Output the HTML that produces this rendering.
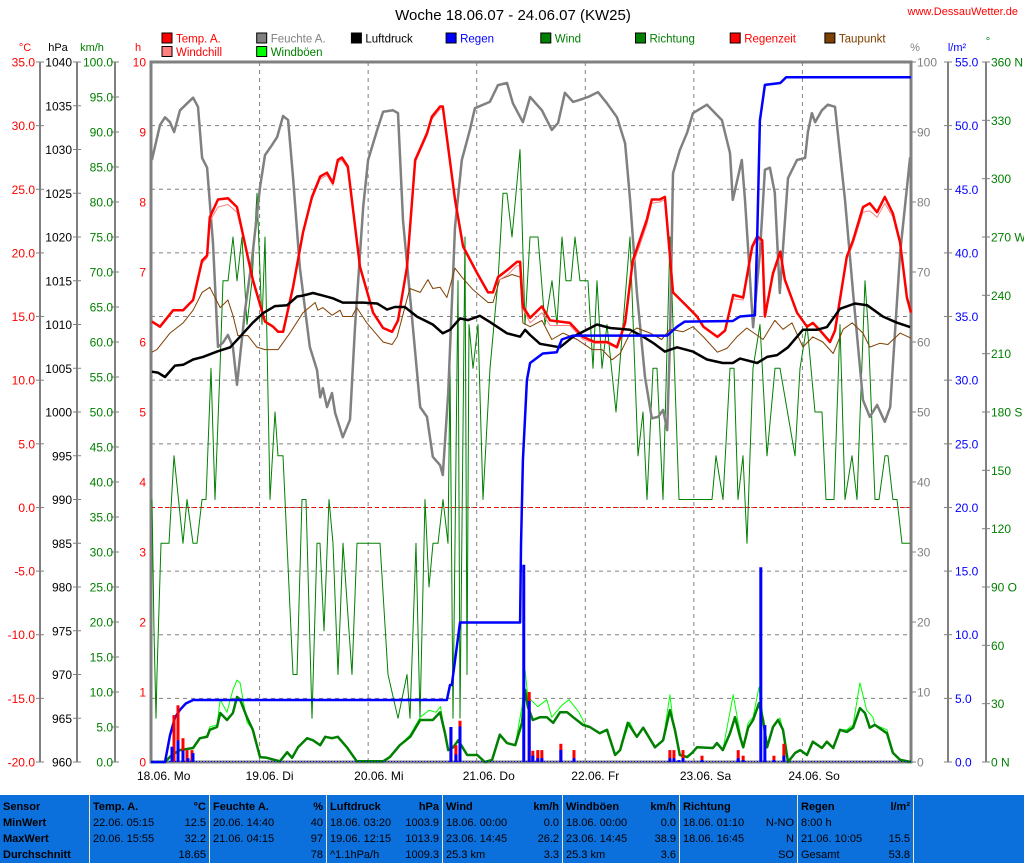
<!DOCTYPE html>
<html><head><meta charset="utf-8">
<style>
html,body{margin:0;padding:0;background:#fff;width:1024px;height:863px;overflow:hidden;font-family:"Liberation Sans",sans-serif;}
#wrap{position:relative;width:1024px;height:863px;}
svg{position:absolute;left:0;top:0;}
#tbl{position:absolute;left:0;top:795px;width:1024px;height:68px;background:#0b6fdc;}
.col{position:absolute;top:0;height:68px;border-left:1px solid #f0e6c0;font-size:11px;color:#000;}
.r{position:absolute;left:3px;right:3px;height:15px;white-space:nowrap;}
.r span.v{position:absolute;right:0;}
.b{font-weight:bold;}
</style></head>
<body>
<div id="wrap">
<svg id="chart" width="1024" height="795" viewBox="0 0 1024 795"></svg>
<div id="tbl">
 <div class="col" style="left:0;width:88px;border-left:none">
  <div class="r b" style="top:6px">Sensor</div><div class="r b" style="top:22px">MinWert</div><div class="r b" style="top:38px">MaxWert</div><div class="r b" style="top:54px">Durchschnitt</div></div>
 <div class="col" style="left:89px;width:119px">
  <div class="r b" style="top:6px">Temp. A.<span class="v">°C</span></div><div class="r" style="top:22px">22.06.  05:15<span class="v">12.5</span></div><div class="r" style="top:38px">20.06.  15:55<span class="v">32.2</span></div><div class="r" style="top:54px"><span class="v">18.65</span></div></div>
 <div class="col" style="left:209px;width:116px">
  <div class="r b" style="top:6px">Feuchte A.<span class="v">%</span></div><div class="r" style="top:22px">20.06.  14:40<span class="v">40</span></div><div class="r" style="top:38px">21.06.  04:15<span class="v">97</span></div><div class="r" style="top:54px"><span class="v">78</span></div></div>
 <div class="col" style="left:326px;width:115px">
  <div class="r b" style="top:6px">Luftdruck<span class="v">hPa</span></div><div class="r" style="top:22px">18.06.  03:20<span class="v">1003.9</span></div><div class="r" style="top:38px">19.06.  12:15<span class="v">1013.9</span></div><div class="r" style="top:54px">^1.1hPa/h<span class="v">1009.3</span></div></div>
 <div class="col" style="left:442px;width:119px">
  <div class="r b" style="top:6px">Wind<span class="v">km/h</span></div><div class="r" style="top:22px">18.06.  00:00<span class="v">0.0</span></div><div class="r" style="top:38px">23.06.  14:45<span class="v">26.2</span></div><div class="r" style="top:54px">25.3 km<span class="v">3.3</span></div></div>
 <div class="col" style="left:562px;width:116px">
  <div class="r b" style="top:6px">Windböen<span class="v">km/h</span></div><div class="r" style="top:22px">18.06.  00:00<span class="v">0.0</span></div><div class="r" style="top:38px">23.06.  14:45<span class="v">38.9</span></div><div class="r" style="top:54px">25.3 km<span class="v">3.6</span></div></div>
 <div class="col" style="left:679px;width:117px">
  <div class="r b" style="top:6px">Richtung</div><div class="r" style="top:22px">18.06.  01:10<span class="v">N-NO</span></div><div class="r" style="top:38px">18.06.  16:45<span class="v">N</span></div><div class="r" style="top:54px"><span class="v">SO</span></div></div>
 <div class="col" style="left:797px;width:115px">
  <div class="r b" style="top:6px">Regen<span class="v">l/m²</span></div><div class="r" style="top:22px">8:00 h</div><div class="r" style="top:38px">21.06.  10:05<span class="v">15.5</span></div><div class="r" style="top:54px">Gesamt<span class="v">53.8</span></div></div>
 <div class="col" style="left:913px;width:111px"></div>
</div>
</div>
<script>
// ---------- DATA ----------
const tempHours=[0.2,2.0,4.9,7.1,9.3,11.3,12.4,13.0,14.8,17.0,19.0,21.2,22.5,25.2,27.0,28.1,29.2,31.4,33.6,35.6,37.4,38.9,40.2,41.3,42.2,43.5,46.2,49.1,51.3,53.3,54.6,56.6,58.4,61.0,62.1,63.9,64.5,67.2,69.0,72.1,74.5,75.6,76.7,78.9,80.9,81.6,82.2,83.8,86.4,88.2,92.6,95.5,98.1,100.8,103.0,104.8,106.5,109.6,110.7,112.5,113.6,115.4,118.5,120.7,122.1,125.2,126.9,128.7,130.9,132.9,134.0,135.1,135.7,137.5,139.1,140.1,142.8,145.0,146.3,147.9,150.1,151.2,153.8,155.2,157.4,158.9,160.5,162.2,164.0,165.6,167.1,168];
const tempVals=[14.6,14.2,15.5,15.5,16.3,19.4,19.8,22.8,24.2,24.3,23.6,20.0,17.9,14.6,14.2,13.8,13.8,17.3,21.6,24.4,26.0,26.3,25.5,27.3,27.5,26.8,18.9,15.3,14.1,13.8,14.7,18.9,27.3,29.4,30.7,31.5,31.5,24.2,20.5,18.4,16.9,16.9,18.1,18.7,19.3,19.3,15.8,14.9,15.8,14.7,14.5,13.4,13.0,13.0,12.6,14.5,19.4,22.6,24.2,24.2,24.4,16.9,15.8,15.0,14.2,13.4,13.9,16.7,16.5,20.5,21.3,21.0,15.0,18.4,20.1,17.9,15.3,14.2,14.5,13.9,13.0,13.9,19.7,21.0,23.6,23.9,23.2,24.4,23.1,20.8,16.5,15.3];
const chillVals=[14.6,14.2,15.5,15.5,16.3,19.2,19.6,22.5,23.6,23.8,23.2,20.0,17.9,14.6,14.2,13.8,13.8,17.3,21.6,24.2,25.8,26.1,25.3,27.1,27.3,26.6,18.9,15.3,14.1,13.8,14.7,18.9,27.1,29.2,30.5,31.3,31.3,24.2,20.5,18.4,16.9,16.9,17.8,18.3,19.0,19.0,15.6,14.5,15.3,14.3,14.3,13.2,12.9,12.9,12.5,14.3,19.0,22.2,23.9,24.0,24.2,16.9,15.8,15.0,14.2,13.4,13.9,16.4,16.3,20.3,21.1,20.8,15.0,18.2,19.9,17.9,15.3,14.2,14.5,13.9,13.0,13.9,19.5,20.7,23.2,23.3,22.8,23.9,22.8,20.6,16.5,15.3];
const dewHours=[0.2,1.3,4.2,7.1,9.3,11.3,13.0,15.3,17.0,18.1,19.2,21.4,23.4,25.2,28.1,30.7,33.6,36.3,36.9,38.0,40.0,41.8,42.4,44.4,45.5,47.7,51.3,53.3,54.4,57.2,59.5,61.2,62.3,63.9,65.4,67.2,68.7,71.2,74.5,75.6,77.1,79.8,81.6,82.2,83.8,86.4,88.6,91.1,94.2,97.5,99.7,101.9,103.7,105.9,107.4,110.3,112.9,114.7,117.6,119.8,122.1,125.2,127.3,129.5,131.7,135.3,137.9,139.7,141.7,144.1,146.3,148.5,150.8,153.0,155.0,157.4,158.9,161.1,162.9,165.6,168];
const dewVals=[12.2,12.4,13.7,14.5,15.5,16.9,17.3,15.7,16.3,15.1,13.5,13.5,12.6,12.4,12.4,13.7,15.3,16.1,15.5,15.7,15.1,15.5,15.0,15.0,15.7,14.5,13.0,12.8,13.4,17.2,16.9,17.9,17.2,17.3,16.5,18.8,18.1,17.1,16.1,16.1,17.9,18.3,18.1,14.5,14.2,14.7,13.2,13.7,13.2,12.4,12.4,11.6,12.1,13.7,14.1,13.7,13.2,14.0,13.8,14.2,13.4,12.2,12.5,13.4,14.1,13.2,14.7,14.0,14.5,12.6,13.4,13.0,12.1,14.0,14.5,13.7,12.6,12.9,12.8,13.7,13.3];
const humHours=[0.2,2.0,3.1,4.2,5.1,6.4,8.0,9.3,10.4,11.3,12.4,13.7,14.8,15.9,17.0,18.1,19.0,20.8,22.3,24.1,25.2,26.7,27.9,29.2,30.3,31.4,32.9,35.1,36.7,37.4,38.0,38.9,40.0,40.7,42.4,44.0,45.1,46.9,48.0,50.0,51.3,53.5,54.6,55.7,57.9,59.5,61.0,62.3,63.9,64.5,65.7,67.2,68.7,70.5,71.6,74.9,76.7,78.7,80.0,82.2,83.8,86.4,88.6,90.0,91.5,93.3,94.8,96.6,98.8,100.8,103.0,104.8,105.9,107.4,109.2,110.7,112.1,113.2,114.1,114.7,115.4,116.9,118.5,119.8,122.9,124.7,126.2,128.0,128.6,130.6,131.3,133.1,134.6,135.7,136.8,137.9,139.0,140.8,142.8,144.6,145.2,146.1,146.8,148.3,149.6,151.2,153.4,155.2,157.4,158.9,160.5,162.2,163.4,165.6,167.8];
const humVals=[86.0,91.0,92.1,91.4,90.0,93.1,94.1,94.9,93.6,86.3,84.9,74.1,59.3,59.9,61.0,59.3,53.9,64.6,71.7,82.1,86.7,88.1,89.3,92.3,91.7,83.6,70.7,59.3,56.0,52.1,53.4,50.7,52.7,49.9,46.4,48.9,62.1,79.3,86.0,90.3,92.9,93.1,92.7,77.4,62.1,50.7,49.3,43.6,42.4,41.0,52.7,76.4,86.0,90.3,93.4,94.3,96.7,97.0,94.1,91.4,95.0,93.1,90.3,91.3,95.6,94.3,94.6,95.0,95.7,94.1,92.1,88.4,80.3,67.0,55.0,49.1,49.3,50.3,47.4,59.9,84.1,87.4,89.9,92.7,93.9,92.7,91.7,87.0,80.3,86.0,80.3,62.1,72.7,84.6,84.9,81.3,67.0,83.4,86.0,86.3,90.0,92.7,91.4,93.1,93.9,93.6,80.3,67.0,51.7,49.3,51.0,48.6,50.7,72.7,86.4];
const presHours=[0.2,1.5,3.1,5.3,7.1,9.3,11.5,14.6,17.5,19.7,22.5,24.8,27.4,30.1,32.3,33.6,35.8,38.0,40.2,42.4,46.9,50.0,52.2,53.9,56.1,58.8,62.3,64.5,66.1,68.3,70.1,72.7,74.9,78.7,81.6,82.7,83.8,86.0,90.4,93.3,98.6,101.5,105.9,108.8,111.0,113.6,116.3,119.8,122.9,126.4,128.6,130.2,134.0,136.2,138.4,140.8,144.1,147.2,149.4,152.3,155.6,158.3,161.8,164.9,167.8];
const presVals=[1004.6,1004.5,1004.0,1005.3,1005.4,1006.0,1006.3,1006.9,1007.4,1008.6,1010.2,1011.3,1012.1,1012.2,1013.2,1013.3,1013.6,1013.3,1013.0,1012.5,1012.5,1012.4,1011.7,1012.0,1012.0,1010.9,1010.0,1009.0,1009.4,1010.7,1010.5,1011.0,1010.3,1009.0,1008.6,1009.4,1008.8,1007.8,1007.4,1008.6,1010.0,1009.6,1009.4,1008.6,1007.9,1006.9,1007.4,1006.9,1006.0,1005.6,1005.6,1006.1,1005.6,1006.3,1006.5,1007.4,1009.4,1009.4,1009.7,1011.8,1012.4,1012.2,1010.9,1010.2,1009.7];
const rainHours=[0,3.1,4.2,5.3,6.4,7.7,9.3,65.4,66.1,66.5,68.3,81.6,81.8,82.2,83.1,83.8,86.6,89.7,90.8,93.3,114.1,116.3,118.0,128.6,130.2,133.5,134.0,134.6,135.7,139.1,140.4,168];
const rainVals=[0,0,2.1,3.5,4.1,4.6,4.87,4.87,6.05,6.05,10.96,10.96,17.0,23.7,30.0,31.35,32.1,32.2,33.2,33.5,33.5,34.2,34.6,34.65,35.0,35.1,41.25,50.4,53.2,53.35,53.8,53.8];
const windHours=[0,3.1,4.6,6.4,9.3,10.8,12.4,13.0,14.6,15.3,16.8,18.1,19.0,19.7,21.2,22.5,24.1,25.6,28.5,30.1,31.2,32.5,34.5,35.8,37.4,38.5,40.0,41.3,43.3,45.5,51.3,52.8,55.0,57.3,59.5,62.3,63.9,65.0,65.7,66.8,67.9,69.9,72.1,73.8,75.4,77.1,78.7,80.5,82.0,82.7,83.3,84.4,86.0,87.5,88.9,90.4,92.0,93.3,95.5,97.0,99.2,100.8,102.6,103.7,105.4,107.4,108.8,111.4,113.2,114.7,115.8,116.9,118.5,119.6,120.7,124.2,125.1,126.4,128.0,129.1,130.2,130.9,132.0,133.1,134.4,135.3,136.2,137.5,138.6,139.7,140.8,142.4,143.5,145.0,146.3,148.3,149.4,150.8,152.3,153.8,155.2,156.7,157.8,158.9,160.0,162.7,164.0,165.6,168];
const windVals=[0,0,1.0,1.7,2.0,3.4,3.6,4.6,5.0,7.0,6.0,7.0,9.3,8.9,6.4,4.6,0.7,0.6,0.1,1.4,0.6,2.1,3.4,3.1,2.4,3.6,3.4,3.6,2.1,0.1,0.1,0.7,2.4,3.6,6.0,6.0,7.1,4.1,1.7,2.1,3.1,1.0,1.0,0,0.3,3.9,2.7,2.4,5.6,10.3,7.9,6.0,6.4,6.4,5.6,7.1,7.1,6.4,5.3,5.0,4.1,4.6,1.0,1.7,5.6,3.6,4.9,2.1,3.1,7.4,4.6,1.0,0.7,1.3,2.1,2.0,2.7,1.7,4.1,6.4,3.6,2.1,4.9,6.0,8.4,6.0,2.1,5.0,6.0,4.6,0,1.3,1.7,1.0,2.9,2.0,2.9,2.0,4.6,4.3,4.9,7.7,7.0,4.9,5.3,4.1,1.3,0.3,0];
const gustHours=[0,3.1,4.6,6.4,9.3,10.8,12.4,13.0,14.6,15.3,16.8,18.1,19.0,19.7,21.2,22.5,24.1,25.6,28.5,30.1,31.2,32.5,34.5,35.8,37.4,38.5,40.0,41.3,43.3,45.5,51.3,52.8,55.0,57.3,59.5,61.5,63.0,64.0,65.0,65.7,66.8,67.9,69.9,72.1,73.8,75.4,77.1,78.7,80.5,82.0,82.7,83.3,85.5,87.5,88.6,90.8,92.4,94.6,96.0,99.2,100.8,102.6,103.7,105.8,107.4,108.8,111.4,113.2,114.7,115.3,116.9,118.5,119.6,120.7,124.2,125.1,126.4,128.7,129.8,130.9,132.0,133.1,134.4,135.3,136.2,137.5,139.0,139.7,140.8,142.4,143.5,145.0,146.3,148.3,149.4,150.8,152.3,153.8,155.2,156.7,158.2,159.6,160.0,162.7,164.0,165.6,168];
const gustVals=[0,0,1.0,1.7,2.0,3.4,3.8,5.0,5.3,8.9,7.1,10.3,11.7,11.3,5.7,4.6,0.7,0.6,0.1,1.4,0.6,2.1,3.4,3.1,2.4,3.6,3.4,3.6,2.1,0.1,0.1,0.7,2.4,3.9,6.4,7.4,7.1,7.9,4.1,1.7,2.1,3.1,1.0,1.0,0,0.3,3.9,2.7,2.4,7.9,13.1,9.3,7.9,8.9,6.4,8.1,8.9,7.1,5.3,4.1,4.6,1.0,1.7,5.7,3.6,4.9,2.1,3.1,9.6,6.4,1.0,0.7,1.3,2.1,2.0,2.7,1.7,9.6,5.6,2.1,5.6,6.4,10.7,6.4,2.1,5.0,6.3,4.6,0,1.3,1.7,1.0,2.9,2.0,2.9,2.0,4.6,4.6,5.3,11.3,7.4,6.4,5.3,4.6,1.3,0.3,0];
const dirHours=[0.22,0.66,1.1,1.33,2.21,3.98,5.08,7.07,7.96,9.28,10.17,11.27,12.16,13.26,14.15,15.25,15.92,17.02,18.13,19.01,20.11,21.22,22.33,23.43,24.54,25.2,26.3,27.4,28.07,29.18,30.06,31.39,32.27,33.38,34.26,35.59,36.69,37.36,38.24,39.35,40.23,41.33,42.44,44.43,45.54,50.62,52.39,54.6,56.59,57.25,58.58,59.46,60.57,61.45,62.33,63.44,64.54,65.65,66.09,66.76,67.86,68.3,69.41,69.85,70.29,71.18,72.28,73.39,74.93,76.7,77.81,78.69,79.8,81.56,82.67,83.78,85.54,87.09,88.64,89.74,90.85,91.73,92.84,93.72,94.83,96.6,97.7,98.59,99.69,100.8,102.79,105.88,107.65,108.75,109.64,110.96,111.85,113.17,114.72,116.71,124.0,124.89,126.44,127.98,128.87,129.75,130.86,131.74,133.07,134.62,136.16,137.93,139.04,142.35,143.46,145.0,146.77,148.32,149.2,150.97,152.3,153.4,154.95,156.06,157.83,158.49,160.04,160.92,162.25,162.91,164.01,164.9,166.0,167.77];
const dirVals=[135,67.5,22.5,45,112.5,112.5,157.5,112.5,135,112.5,112.5,135,135,202.5,135,202.5,247.5,247.5,270,247.5,270,225,247.5,292.5,225,270,135,180,157.5,157.5,112.5,45,45,135,135,22.5,112.5,112.5,67.5,135,112.5,45,112.5,45,112.5,112.5,45,22.5,45,22.5,112.5,22.5,135,90,112.5,112.5,135,112.5,202.5,22.5,247.5,22.5,270,45,225,202.5,225,135,202.5,247.5,292.5,292.5,270,315,225,270,270,225,247.5,225,270,247.5,247.5,270,247.5,247.5,202.5,247.5,202.5,225,180,270,157.5,180,135,202.5,202.5,135,270,135,135,157.5,135,202.5,202.5,135,157.5,112.5,202.5,225,157.5,202.5,202.5,157.5,202.5,225,180,180,135,135,225,135,157.5,135,247.5,225,135,135,157.5,157.5,135,135,112.5,112.5];
const barHours=[4.64,5.97,7.07,8.18,9.28,66.3,67.4,68.3,82.4,83.6,84.4,85.5,86.4,90.6,93.5,114.7,115.6,116.7,117.6,121.8,129.8,130.9,134.8,135.7,137.7,139.9];
const barRain=[1.2,1.7,0.9,0.3,0.7,2.75,0.6,2.8,15.5,4.8,0.5,0.3,0.3,0.95,0.3,0.3,0.3,0.15,0.3,0.15,0.3,0.15,15.3,2.9,0.15,0.5];
const rtHours=[5.08,5.97,7.07,7.96,9.06,66.3,67.4,68.3,83.6,84.4,85.5,86.4,90.6,93.5,114.7,115.6,117.6,121.8,129.8,130.9,137.7,139.9];
const rtVals=[0.67,0.81,0.34,0.17,0.17,0.5,0.24,0.59,1.0,0.16,0.17,0.17,0.26,0.17,0.17,0.17,0.17,0.09,0.17,0.09,0.09,0.26];
const dayLabels=["18.06.  Mo","19.06.  Di","20.06.  Mi","21.06.  Do","22.06.  Fr","23.06.  Sa","24.06.  So"];
const tempTicks=["35.0","30.0","25.0","20.0","15.0","10.0","5.0","0.0","-5.0","-10.0","-15.0","-20.0"];
const presTicks=["1040","1035","1030","1025","1020","1015","1010","1005","1000","995","990","985","980","975","970","965","960"];
const kmhTicks=["100.0","95.0","90.0","85.0","80.0","75.0","70.0","65.0","60.0","55.0","50.0","45.0","40.0","35.0","30.0","25.0","20.0","15.0","10.0","5.0","0.0"];
const hTicks=["10","9","8","7","6","5","4","3","2","1","0"];
const pctTicks=["100","90","80","70","60","50","40","30","20","10","0"];
const rainTicks=["55.0","50.0","45.0","40.0","35.0","30.0","25.0","20.0","15.0","10.0","5.0","0.0"];
const dirTicks=["360 N","330","300","270 W","240","210","180 S","150","120","90 O","60","30","0 N"];

// ---------- SCALES ----------
const L=151,R=911,T=62,B=762;
const X=h=>L+h*(R-L)/168;
const yT=t=>B-(t+20)*(B-T)/55;
const yH=v=>B-v*(B-T)/100;
const yP=p=>B-(p-960)*(B-T)/80;
const yW=w=>B-w*(B-T)/100;
const yR=r=>B-r*(B-T)/55;
const yD=d=>B-d*(B-T)/360;
const yHr=h=>B-h*(B-T)/10;

const NS="http://www.w3.org/2000/svg";
const svg=document.getElementById('chart');
function mk(tag,attrs,parent){const e=document.createElementNS(NS,tag);for(const k in attrs)e.setAttribute(k,attrs[k]);(parent||svg).appendChild(e);return e;}
function txt(x,y,s,color,anchor,size,name){
  const e=mk('text',{x:x,y:y,fill:color,'text-anchor':anchor||'start','font-size':size||12,'font-family':'Liberation Sans, sans-serif'});
  e.textContent=s;
  
  
  return e;}

// title
txt(513,20,"Woche 18.06.07 - 24.06.07 (KW25)","#000","middle",15,"chart-title");
txt(1018,15,"www.DessauWetter.de","#ff0000","end",11,"site-url");

// legend
const legNames=["Temp. A.","Feuchte A.","Luftdruck","Regen","Wind","Richtung","Regenzeit","Taupunkt","Windchill","Windböen"];
const legBox=["#ff0000","#808080","#000000","#0000ff","#008000","#008000","#ff0000","#804000","#ff8080","#00ff00"];
const legText=["#ff0000","#808080","#000000","#0000ff","#008000","#008000","#ff0000","#804000","#ff0000","#008000"];
for(let i=0;i<legNames.length;i++){
  const col=i<8?i:i-8, row=i<8?0:1;
  const lx=162+col*94.7, ly=33+row*13.5;
  const b=mk('rect',{x:lx,y:ly,width:10,height:10,fill:legBox[i],stroke:'#000','stroke-width':1});
  
  
  txt(lx+14,ly+9.5,legNames[i],legText[i],'start',11.5,'legend-entry-'+i);
}
// unit labels
txt(25,51,"°C","#ff0000","middle",11,"temp-unit");
txt(58,51,"hPa","#000","middle",11,"pressure-unit");
txt(92,51,"km/h","#008000","middle",11,"windspeed-unit");
txt(138,51,"h","#ff0000","middle",11,"hours-unit");
txt(915,51,"%","#808080","middle",11,"humidity-unit");
txt(957,51,"l/m²","#0000ff","middle",11,"rain-unit");
txt(988,45,"°","#008000","middle",11,"direction-unit");

// grid
for(let k=1;k<7;k++){const g=mk('line',{x1:X(k*24),x2:X(k*24),y1:T,y2:B,stroke:'#808080','stroke-dasharray':'4,4','stroke-width':1});
  }
for(let k=1;k<11;k++){const g=mk('line',{x1:L,x2:R,y1:yR(k*5),y2:yR(k*5),stroke:'#808080','stroke-dasharray':'4,4','stroke-width':1});
  }
const zl=mk('line',{x1:L,x2:R,y1:yT(0),y2:yT(0),stroke:'#ff0000','stroke-dasharray':'4,3','stroke-width':1});


// axes
function axis(ax,ticks,labelX,anchor,color,name,tickL,tickR){
  const a=mk('line',{x1:ax,x2:ax,y1:T,y2:B,stroke:'#808080','stroke-width':2});
  
  const n=ticks.length-1;
  for(let i=0;i<=n;i++){const y=T+i*(B-T)/n;
    mk('line',{x1:ax-tickL,x2:ax+tickR,y1:y,y2:y,stroke:'#808080','stroke-width':1});
    txt(labelX,y+4.5,ticks[i],color,anchor,12,name+'-tick-label');}
}
axis(40,tempTicks,35,'end','#ff0000','temp-axis',4,4);
axis(77,presTicks,72,'end','#000','pressure-axis',4,4);
axis(115,kmhTicks,113,'end','#008000','windspeed-axis',4,4);
axis(948,rainTicks,955,'start','#0000ff','rain-axis',4,4);
axis(986,dirTicks,991,'start','#008000','direction-axis',4,4);
// h axis labels and % labels (plot border)
for(let i=0;i<hTicks.length;i++){const y=T+i*70;txt(146,y+4.5,hTicks[i],'#ff0000','end',12,'hours-tick-label');}
for(let i=0;i<pctTicks.length;i++){const y=T+i*70;mk('line',{x1:R,x2:R+5,y1:y,y2:y,stroke:'#808080'});txt(917,y+4.5,pctTicks[i],'#808080','start',12,'humidity-tick-label');}
const frame=mk('path',{d:`M${L},${B} L${L},${T} L${R},${T} L${R},${B} Z`,fill:'none',stroke:'#808080','stroke-width':3});

for(let k=0;k<7;k++){txt(X(k*24)-14,780,dayLabels[k],'#000','start',12,'x-axis-day-label');}

// series
function series(hours,vals,yf,color,w,name,step){
  let d='';
  for(let i=0;i<hours.length;i++){const x=X(hours[i]).toFixed(1),y=yf(vals[i]).toFixed(1);
    if(i===0)d+='M'+x+','+y;else if(step)d+=' H'+x+' V'+y;else d+=' L'+x+','+y;}
  const p=mk('path',{d:d,fill:'none',stroke:color,'stroke-width':w,'stroke-linejoin':'round'});
  
  
  return p;}
series(dirHours,dirVals,yD,'#008000',1,'wind-direction-line',false);
series(gustHours,gustVals,yW,'#00ff00',1,'wind-gust-line',false);
series(windHours,windVals,yW,'#008000',2.5,'wind-speed-line',false);
series(humHours,humVals,yH,'#808080',2.5,'humidity-line',false);
series(dewHours,dewVals,yT,'#804000',1,'dewpoint-line',false);
series(tempHours,chillVals,yT,'#ff8080',1,'windchill-line',false);
series(tempHours,tempVals,yT,'#ff0000',2.5,'temperature-line',false);
series(presHours,presVals,yP,'#000000',2.5,'pressure-line',false);
series(rainHours,rainVals,yR,'#0000ff',2.5,'cumulative-rain-line',false);
// bars
for(let i=0;i<rtHours.length;i++){const x=X(rtHours[i]),y=yHr(rtVals[i]);
  const b=mk('rect',{x:x-1.5,y:y,width:3,height:B-y,fill:'#ff0000'});
  
  }
for(let i=0;i<barHours.length;i++){const x=X(barHours[i]),y=yR(barRain[i]);
  const b=mk('rect',{x:x-1.5,y:y,width:3,height:B-y,fill:'#0000ff'});
  
  }
const bl=mk('line',{x1:L,x2:R,y1:B-0.5,y2:B-0.5,stroke:'#0000ff','stroke-dasharray':'1,2','stroke-width':1});

</script>
</body></html>
